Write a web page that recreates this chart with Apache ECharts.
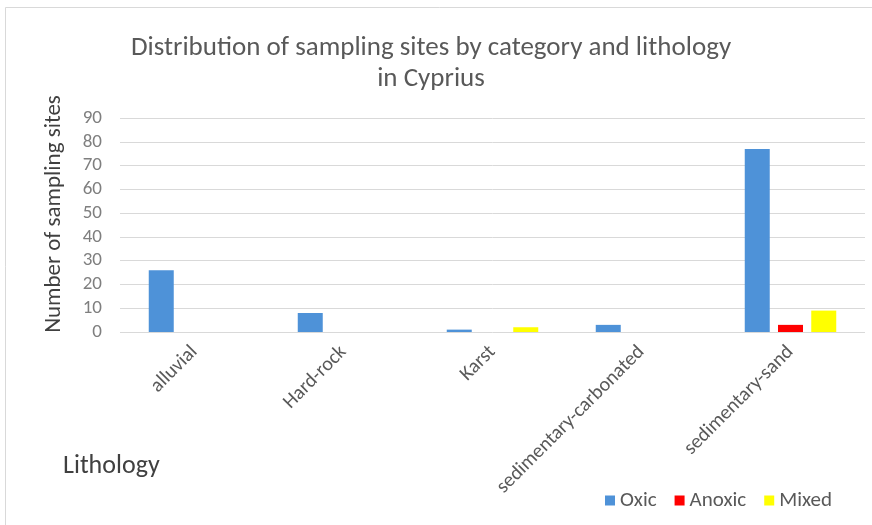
<!DOCTYPE html>
<html><head><meta charset="utf-8">
<script src="https://cdn.jsdelivr.net/npm/echarts@6/dist/echarts.min.js"></script>
<style>html,body{margin:0;padding:0;background:#fff}#c{width:872px;height:525px}</style>
</head><body><div id="c"></div>
<script>
const categories = ['alluvial', 'Hard-rock', 'Karst', 'sedimentary-carbonated', 'sedimentary-sand'];
const oxic = [26, 8, 1, 3, 77];
const anoxic = [0, 0, 0, 0, 3];
const mixed = [0, 0, 2, 0, 9];
const yTicks = { min: 0, max: 90, interval: 10 };

const font = 'Calibri, Carlito, "Open Sans", "Noto Sans", sans-serif';
const chart = echarts.init(document.getElementById('c'));
chart.setOption({
  backgroundColor: '#fff',
  animation: false,
  textStyle: { fontFamily: font },
  title: {
    text: 'Distribution of sampling sites by category and lithology\nin Cyprius',
    left: 426, top: 28, textAlign: 'center',
    textStyle: { fontFamily: font, fontSize: 27, fontWeight: 'normal', color: '#595959', lineHeight: 31 }
  },
  graphic: [
    { type: 'rect', shape: { x: 5.5, y: 7.5, width: 880, height: 520 }, style: { fill: 'none', stroke: '#d9d9d9', lineWidth: 1 } },
    { type: 'text', left: 63, top: 453, style: { text: 'Lithology', font: '26px ' + font, fill: '#404040' } },
    { type: 'text', x: 54, y: 214, rotation: Math.PI / 2,
      style: { text: 'Number of sampling sites', font: '23px ' + font, fill: '#404040', textAlign: 'center', textVerticalAlign: 'middle' } }
  ],
  legend: {
    left: 600, top: 485, itemWidth: 10, itemHeight: 10, itemGap: 18,
    icon: 'rect',
    textStyle: { fontFamily: font, fontSize: 21, color: '#595959' },
    data: ['Oxic', 'Anoxic', 'Mixed']
  },
  grid: { left: 120, right: 7, top: 118, height: 214, containLabel: false },
  xAxis: {
    type: 'category', data: categories,
    axisLine: { show: false }, axisTick: { show: false },
    axisLabel: { rotate: 45, interval: 0, margin: 17, fontFamily: font, fontSize: 20, color: '#595959' }
  },
  yAxis: {
    type: 'value', min: yTicks.min, max: yTicks.max, interval: yTicks.interval,
    axisLine: { show: false }, axisTick: { show: false },
    axisLabel: { fontFamily: font, fontSize: 19, color: '#7f7f7f', margin: 18 },
    splitLine: { lineStyle: { color: '#d9d9d9', width: 1 } }
  },
  series: [
    { name: 'Oxic', type: 'bar', data: oxic, barWidth: 25, barGap: '33%', itemStyle: { color: '#4e92d8' } },
    { name: 'Anoxic', type: 'bar', data: anoxic, barWidth: 25, barGap: '33%', itemStyle: { color: '#ff0000' } },
    { name: 'Mixed', type: 'bar', data: mixed, barWidth: 25, barGap: '33%', itemStyle: { color: '#ffff00' } }
  ]
});
</script></body></html>
